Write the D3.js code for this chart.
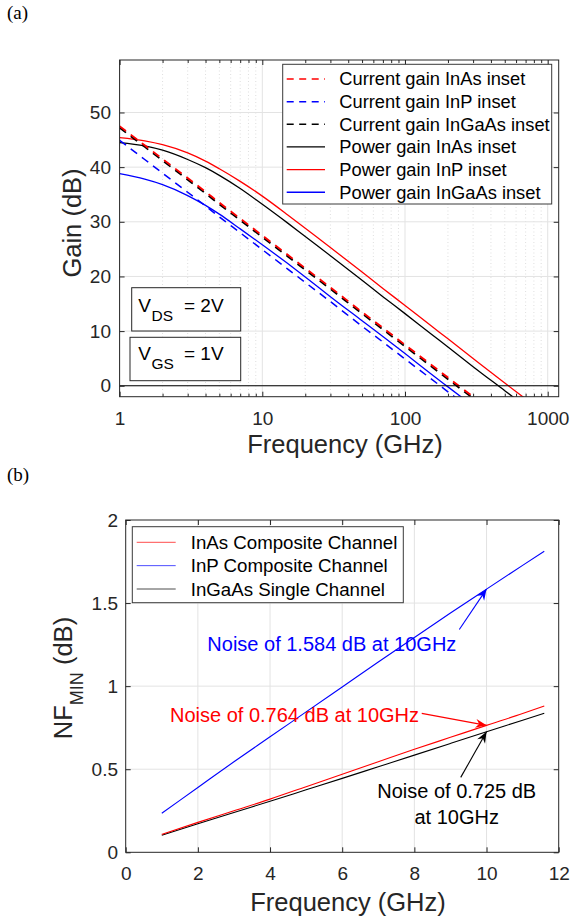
<!DOCTYPE html>
<html><head><meta charset="utf-8">
<script src="https://cdn.jsdelivr.net/npm/d3@7"></script>
<style>
html,body{margin:0;padding:0;background:#fff;}
svg{display:block;}
text{font-family:"Liberation Sans",Arial,Helvetica,sans-serif;fill:#262626;}
</style></head>
<body>
<svg id="fig" width="570" height="919"></svg>
<script>
// ---------------- DATA (a) ----------------
const freqA = [1, 1.5, 2, 3, 4, 5, 7, 10, 15, 20, 30, 50, 70, 100, 150, 200, 300, 500, 700];
const currentInAs   = [47.5, 44.0, 41.5, 38.0, 35.5, 33.5, 30.6, 27.5, 24.0, 21.5, 18.0, 13.5, 10.6, 7.5, 4.0, 1.5, -2.0, null, null];
const currentInP    = [44.9, 41.4, 38.9, 35.4, 32.9, 30.9, 28.0, 24.9, 21.4, 18.9, 15.4, 10.9, 8.0, 4.9, 1.4, -1.1, -4.6, null, null];
const currentInGaAs = [47.2, 43.7, 41.2, 37.7, 35.2, 33.2, 30.3, 27.2, 23.7, 21.2, 17.7, 13.2, 10.3, 7.2, 3.7, 1.2, -2.3, null, null];
const powerInAs     = [44.5, 43.9, 43.1, 41.4, 39.9, 38.5, 36.1, 33.2, 29.8, 27.3, 23.8, 19.3, 16.3, 13.2, 9.6, 7.1, 3.5, -0.9, -3.8];
const powerInP      = [45.4, 44.8, 44.1, 42.6, 41.1, 39.7, 37.4, 34.7, 31.3, 28.8, 25.3, 20.8, 17.8, 14.7, 11.1, 8.6, 5.0, 0.5, -2.4];
const powerInGaAs   = [38.8, 37.8, 36.8, 34.8, 33.0, 31.4, 28.7, 25.8, 22.4, 19.9, 16.3, 11.9, 9.0, 5.9, 2.3, -0.2, -3.7, null, null];
const seriesNamesA = ["Current gain InAs inset", "Current gain InP inset", "Current gain InGaAs inset",
                      "Power gain InAs inset", "Power gain InP inset", "Power gain InGaAs inset"];
const gainTicks = [0, 10, 20, 30, 40, 50];
const freqTicksA = [1, 10, 100, 1000];

// ---------------- DATA (b) ----------------
const freqB = [1, 2, 3, 4, 5, 6, 7, 8, 9, 10, 11, 11.6];
const nfInAs   = [0.108, 0.180, 0.250, 0.320, 0.395, 0.470, 0.545, 0.620, 0.692, 0.764, 0.835, 0.880];
const nfInP    = [0.235, 0.390, 0.545, 0.695, 0.845, 0.995, 1.145, 1.293, 1.440, 1.584, 1.727, 1.812];
const nfInGaAs = [0.103, 0.172, 0.240, 0.307, 0.376, 0.445, 0.515, 0.585, 0.655, 0.725, 0.795, 0.837];
const seriesNamesB = ["InAs Composite Channel", "InP Composite Channel", "InGaAs Single Channel"];
const nfTicks = [0, 0.5, 1, 1.5, 2];
const freqTicksB = [0, 2, 4, 6, 8, 10, 12];
const notes = [
  {lines: ["Noise of 1.584 dB at 10GHz"], color: "#0000ff", tx: 2.262, ty: [1.21], anchor: "start", tail: [9.246, 1.341], tip: [10, 1.584]},
  {lines: ["Noise of 0.764 dB at 10GHz"], color: "#ff0000", tx: 1.228, ty: [0.784], anchor: "start", tail: [8.204, 0.836], tip: [10, 0.764]},
  {lines: ["Noise of 0.725 dB", "at 10GHz"], color: "#000000", tx: 9.174, ty: [0.328, 0.170], anchor: "middle", tail: [9.285, 0.451], tip: [10, 0.725]}
];

const svg = d3.select("#fig");
svg.append("rect").attr("width", 570).attr("height", 919).attr("fill", "#fff");
const AX = "#262626", GRID = "#e3e3e3", MINOR = "#d6d6d6";
const FT = 19;

// ======================= PANEL (a) =======================
const xA = d3.scaleLog().domain([1, 1194]).range([119.6, 558.7]);
const yA = d3.scaleLinear().domain([-2, 59.6]).range([396.7, 60]);
const gA = svg.append("g");
svg.append("text").text("(a)").attr("x", 7).attr("y", 19)
  .style("font-family", "'Liberation Serif','Times New Roman',serif").style("font-size", "19px").style("fill", "#000");

svg.append("defs").append("clipPath").attr("id", "clipA").append("rect")
  .attr("x", xA.range()[0]).attr("y", yA.range()[1])
  .attr("width", xA.range()[1] - xA.range()[0]).attr("height", yA.range()[0] - yA.range()[1]);

const minorA = [];
[1, 10, 100, 1000].forEach(d => { for (let k = 2; k <= 9; k++) { const v = d * k; if (v < 1194) minorA.push(v); } });
gA.append("g").selectAll("line").data(minorA).join("line")
  .attr("x1", d => xA(d)).attr("x2", d => xA(d)).attr("y1", yA.range()[1]).attr("y2", yA.range()[0])
  .attr("stroke", MINOR).attr("stroke-width", 0.8).attr("stroke-dasharray", "1,2.5");
gA.append("g").selectAll("line").data(freqTicksA).join("line")
  .attr("x1", d => xA(d)).attr("x2", d => xA(d)).attr("y1", yA.range()[1]).attr("y2", yA.range()[0])
  .attr("stroke", GRID).attr("stroke-width", 1);
gA.append("g").selectAll("line").data(gainTicks).join("line")
  .attr("y1", d => yA(d)).attr("y2", d => yA(d)).attr("x1", xA.range()[0]).attr("x2", xA.range()[1])
  .attr("stroke", GRID).attr("stroke-width", 1);

const plotA = gA.append("g").attr("clip-path", "url(#clipA)");
const lineA = vals => d3.line().defined(d => d[1] !== null)
  .x(d => xA(d[0])).y(d => yA(d[1])).curve(d3.curveMonotoneX)(freqA.map((f, i) => [f, vals[i]]));
const specA = [
  {v: currentInAs, c: "#ff0000", dash: "8,6", w: 1.8},
  {v: currentInP, c: "#0000ff", dash: "8,6", w: 1.5},
  {v: currentInGaAs, c: "#000000", dash: "8,6", w: 1.8},
  {v: powerInAs, c: "#000000", dash: null, w: 1.3},
  {v: powerInP, c: "#ff0000", dash: null, w: 1.3},
  {v: powerInGaAs, c: "#0000ff", dash: null, w: 1.3}
];
// draw solid first then dashed (InGaAs black dashed under red dashed)
[3, 4, 5, 1, 2, 0].forEach(i => {
  const s = specA[i];
  plotA.append("path").attr("d", lineA(s.v)).attr("fill", "none").attr("stroke", s.c)
    .attr("stroke-width", s.w).attr("stroke-dasharray", s.dash);
});
// zero line
plotA.append("line").attr("x1", xA.range()[0]).attr("x2", xA.range()[1])
  .attr("y1", yA(0)).attr("y2", yA(0)).attr("stroke", "#000").attr("stroke-width", 1.2);

// axes
function styleAxis(g) { g.select(".domain").remove(); g.selectAll("line").attr("stroke", AX); g.selectAll("text").style("font-size", FT + "px").style("fill", AX).attr("font-family", null); }
gA.append("g").attr("transform", `translate(0,${yA.range()[0]})`)
  .call(d3.axisBottom(xA).tickValues(freqTicksA).tickFormat(d3.format("d")).tickSize(-5).tickPadding(14.8)).call(styleAxis);
gA.append("g").attr("transform", `translate(0,${yA.range()[0]})`)
  .call(d3.axisBottom(xA).tickValues(minorA).tickFormat("").tickSize(-3)).call(styleAxis);
gA.append("g").attr("transform", `translate(0,${yA.range()[1]})`)
  .call(d3.axisTop(xA).tickValues(freqTicksA).tickFormat("").tickSize(-5)).call(styleAxis);
gA.append("g").attr("transform", `translate(0,${yA.range()[1]})`)
  .call(d3.axisTop(xA).tickValues(minorA).tickFormat("").tickSize(-3)).call(styleAxis);
gA.append("g").attr("transform", `translate(${xA.range()[0]},0)`)
  .call(d3.axisLeft(yA).tickValues(gainTicks).tickSize(-5).tickPadding(8.6)).call(styleAxis);
gA.append("g").attr("transform", `translate(${xA.range()[1]},0)`)
  .call(d3.axisRight(yA).tickValues(gainTicks).tickFormat("").tickSize(-5)).call(styleAxis);
gA.append("rect").attr("x", xA.range()[0]).attr("y", yA.range()[1])
  .attr("width", xA.range()[1] - xA.range()[0]).attr("height", yA.range()[0] - yA.range()[1])
  .attr("fill", "none").attr("stroke", AX).attr("stroke-width", 1);

gA.append("text").text("Frequency (GHz)").attr("x", 345).attr("y", 453).attr("text-anchor", "middle").style("font-size", "25.5px");
gA.append("text").text("Gain (dB)").attr("transform", "translate(81,223) rotate(-90)").attr("text-anchor", "middle").style("font-size", "25.5px");

// legend (a)
const legA = gA.append("g");
legA.append("rect").attr("x", 282.7).attr("y", 64.3).attr("width", 269).attr("height", 139.7)
  .attr("fill", "#fff").attr("stroke", "#3a3a3a").attr("stroke-width", 1);
seriesNamesA.forEach((name, i) => {
  const yy = 79 + i * 22.65, s = specA[i];
  legA.append("line").attr("x1", 286.7).attr("x2", 325).attr("y1", yy).attr("y2", yy)
    .attr("stroke", s.c).attr("stroke-width", s.dash ? 1.5 : 1.3).attr("stroke-dasharray", s.dash ? "7,5.5" : null);
  legA.append("text").text(name).attr("x", 339.3).attr("y", yy).attr("dy", "0.35em").style("font-size", "18.3px").style("fill", "#000");
});

// bias boxes
function biasBox(x0, y0, x1, y1, sub, val, base) {
  gA.append("rect").attr("x", x0).attr("y", y0).attr("width", x1 - x0).attr("height", y1 - y0)
    .attr("fill", "#fff").attr("stroke", "#262626").attr("stroke-width", 1);
  gA.append("text").text("V").attr("x", 138.3).attr("y", base).style("font-size", "19px").style("fill", "#000");
  gA.append("text").text(sub).attr("x", 151.5).attr("y", base + 9.3).style("font-size", "15.5px").style("fill", "#000");
  gA.append("text").text("= " + val).attr("x", 184).attr("y", base).style("font-size", "19px").style("fill", "#000");
}
biasBox(131.7, 287.7, 240.7, 331, "DS", "2V", 311.7);
biasBox(130, 337.3, 240.7, 380.7, "GS", "1V", 360);

// ======================= PANEL (b) =======================
const xB = d3.scaleLinear().domain([0, 12]).range([125.7, 558.7]);
const yB = d3.scaleLinear().domain([0, 2]).range([852.3, 520]);
const gB = svg.append("g");
svg.append("text").text("(b)").attr("x", 7).attr("y", 481)
  .style("font-family", "'Liberation Serif','Times New Roman',serif").style("font-size", "19px").style("fill", "#000");

gB.append("g").selectAll("line").data(freqTicksB.slice(1, -1)).join("line")
  .attr("x1", d => xB(d)).attr("x2", d => xB(d)).attr("y1", yB.range()[1]).attr("y2", yB.range()[0])
  .attr("stroke", GRID).attr("stroke-width", 1);
gB.append("g").selectAll("line").data(nfTicks.slice(1, -1)).join("line")
  .attr("y1", d => yB(d)).attr("y2", d => yB(d)).attr("x1", xB.range()[0]).attr("x2", xB.range()[1])
  .attr("stroke", GRID).attr("stroke-width", 1);

const specB = [
  {v: nfInAs, c: "#ff0000"},
  {v: nfInP, c: "#0000ff"},
  {v: nfInGaAs, c: "#000000"}
];
const lineB = vals => d3.line().x(d => xB(d[0])).y(d => yB(d[1])).curve(d3.curveMonotoneX)(freqB.map((f, i) => [f, vals[i]]));
[2, 0, 1].forEach(i => {
  gB.append("path").attr("d", lineB(specB[i].v)).attr("fill", "none").attr("stroke", specB[i].c).attr("stroke-width", 1.1);
});

gB.append("g").attr("transform", `translate(0,${yB.range()[0]})`)
  .call(d3.axisBottom(xB).tickValues(freqTicksB).tickSize(-5).tickPadding(14.2)).call(styleAxis);
gB.append("g").attr("transform", `translate(0,${yB.range()[1]})`)
  .call(d3.axisTop(xB).tickValues(freqTicksB).tickFormat("").tickSize(-5)).call(styleAxis);
gB.append("g").attr("transform", `translate(${xB.range()[0]},0)`)
  .call(d3.axisLeft(yB).tickValues(nfTicks).tickFormat(d => String(d)).tickSize(-5).tickPadding(7.7)).call(styleAxis);
gB.append("g").attr("transform", `translate(${xB.range()[1]},0)`)
  .call(d3.axisRight(yB).tickValues(nfTicks).tickFormat("").tickSize(-5)).call(styleAxis);
gB.append("rect").attr("x", xB.range()[0]).attr("y", yB.range()[1])
  .attr("width", xB.range()[1] - xB.range()[0]).attr("height", yB.range()[0] - yB.range()[1])
  .attr("fill", "none").attr("stroke", AX).attr("stroke-width", 1);

gB.append("text").text("Frequency (GHz)").attr("x", 348).attr("y", 911).attr("text-anchor", "middle").style("font-size", "25.5px");
const yl = gB.append("text").attr("transform", "translate(72,678) rotate(-90)").attr("text-anchor", "middle").style("font-size", "25.5px");
yl.append("tspan").text("NF");
yl.append("tspan").text("MIN").attr("dy", 11).style("font-size", "18px");
yl.append("tspan").text(" (dB)").attr("dy", -11);

// legend (b)
const legB = gB.append("g");
legB.append("rect").attr("x", 132.3).attr("y", 526.7).attr("width", 271).attr("height", 76)
  .attr("fill", "#fff").attr("stroke", "#3a3a3a").attr("stroke-width", 1);
seriesNamesB.forEach((name, i) => {
  const yy = 542.3 + i * 23.35;
  legB.append("line").attr("x1", 136.7).attr("x2", 175.7).attr("y1", yy).attr("y2", yy)
    .attr("stroke", specB[i].c).attr("stroke-width", 1).attr("stroke-opacity", 0.7);
  legB.append("text").text(name).attr("x", 190.7).attr("y", yy).attr("dy", "0.35em").style("font-size", "18.7px").style("fill", "#000");
});

// annotations
const defs = svg.select("defs");
notes.forEach((n, i) => {
  defs.append("marker").attr("id", "ah" + i).attr("markerUnits", "userSpaceOnUse")
    .attr("markerWidth", 14).attr("markerHeight", 12).attr("refX", 12).attr("refY", 5)
    .attr("orient", "auto").attr("viewBox", "0 0 14 10")
    .append("path").attr("d", "M12,5 L1,0.5 L4.5,5 L1,9.5 Z").attr("fill", n.color);
  gB.append("line").attr("x1", xB(n.tail[0])).attr("y1", yB(n.tail[1]))
    .attr("x2", xB(n.tip[0])).attr("y2", yB(n.tip[1]))
    .attr("stroke", n.color).attr("stroke-width", 1.1).attr("marker-end", `url(#ah${i})`);
  n.lines.forEach((t, j) => {
    gB.append("text").text(t).attr("x", xB(n.tx)).attr("y", yB(n.ty[j])).attr("text-anchor", n.anchor)
      .style("font-size", "20px").style("fill", n.color);
  });
});
</script>
</body></html>
